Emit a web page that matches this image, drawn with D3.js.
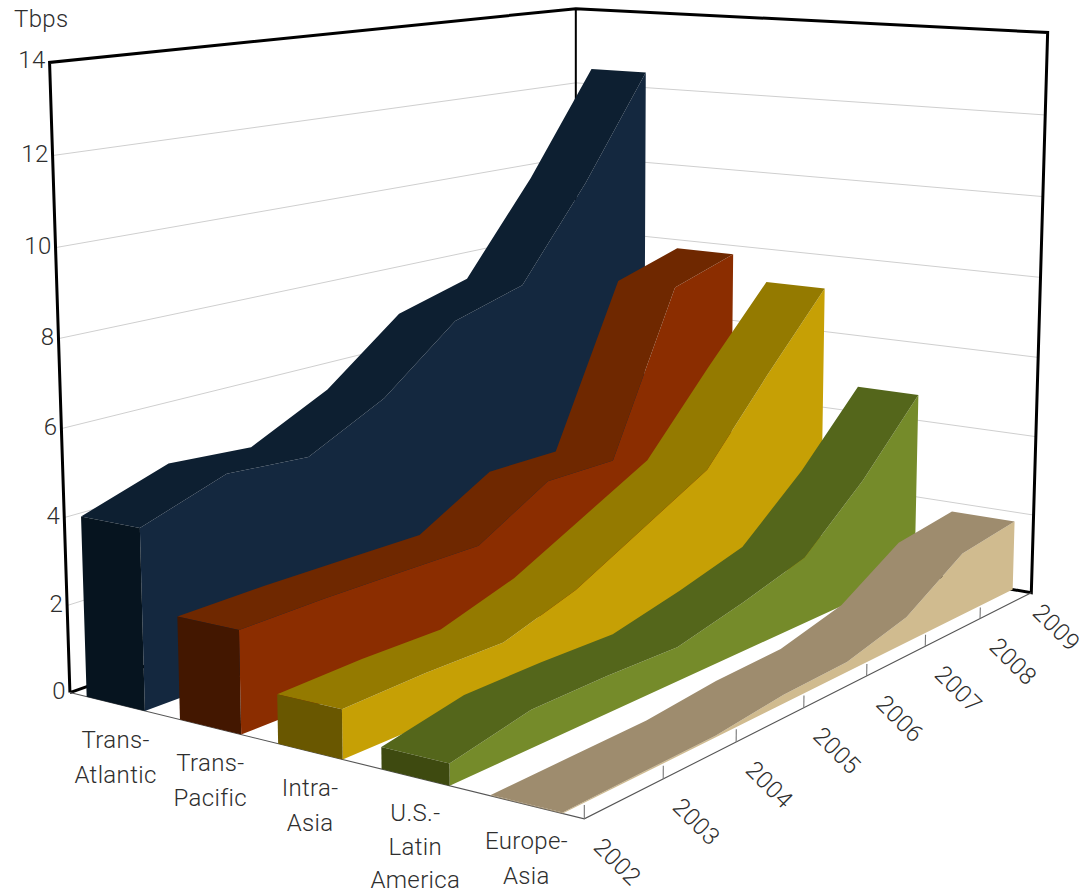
<!DOCTYPE html>
<html><head><meta charset="utf-8">
<style>html,body{margin:0;padding:0;background:#fff}svg{display:block}text{font-family:Roboto,"Liberation Sans",sans-serif;font-weight:300;font-size:24px;letter-spacing:.35px;fill:#2e2e2e}</style>
<script src="https://cdnjs.cloudflare.com/ajax/libs/d3/7.8.5/d3.min.js"></script>
</head><body><svg id="chart" width="1085" height="895"></svg>
<script>
// Lit submarine-cable capacity by route, Tbps
const years = [2002,2003,2004,2005,2006,2007,2008,2009];
const categories = ["Trans-Atlantic","Trans-Pacific","Intra-Asia","U.S.-Latin America","Europe-Asia"];
const categoryLines = [["Trans-","Atlantic"],["Trans-","Pacific"],["Intra-","Asia"],["U.S.-","Latin","America"],["Europe-","Asia"]];
const transAtlantic = [4.1,4.75,4.6,5.5,6.95,7.45,9.75,12.4];
const transPacific = [2.3,2.33,2.32,2.3,3.3,3.28,7.27,7.77];
const intraAsia = [1.08,1.14,1.12,1.68,2.55,3.42,5.32,7.13];
const usLatinAmerica = [0.47,0.84,0.85,0.8,1.18,1.63,2.99,4.66];
const europeAsia = [0.02,0.03,0.04,0.2,0.24,0.62,1.55,1.76];
const seriesValues = [transAtlantic,transPacific,intraAsia,usLatinAmerica,europeAsia];
const valueTicks = [0,2,4,6,8,10,12,14];
const sideColors = ["#14283f","#8b2d00","#c6a005","#758b2a","#d0bb8f"];
const topColors = ["#0d1f31","#6f2800","#947a00","#54661b","#9e8c6e"];
const capColors = ["#06141f","#431700","#695700","#3e4a10","#9e8c6e"];

// Perspective camera: maps the unit cube (route, year, value) to page pixels
const camera = [[442.0232,650.2225,-22.26885,69.9159],[24.84731,-49.50008,-632.5648,692.5659],[-0.1238511,0.2507266,-0.03881792,1]];
const project = (a,b,c) => {
  const w = camera[2][0]*a + camera[2][1]*b + camera[2][2]*c + camera[2][3];
  return [0,1].map(i => (camera[i][0]*a + camera[i][1]*b + camera[i][2]*c + camera[i][3]) / w);
};
const xBand = d3.scaleBand().domain(categories).range([0,1]).paddingInner(0.37).paddingOuter(0.185);
const yYear = d3.scaleLinear().domain([2002,2009]).range([0,1]);
const zValue = d3.scaleLinear().domain([0,14]).range([0,1]);
const pt = (a,year,value) => project(a, yYear(year), zValue(value));
const path = d3.line();
const svg = d3.select("#chart");

// Walls: gridlines, then the heavy frame
const grid = svg.append("g").attr("fill","none").attr("stroke","#cfcfcf").attr("stroke-width",1);
valueTicks.filter(v => v>0 && v<14).forEach(v => {
  grid.append("path").attr("d", path([pt(0,2002,v),pt(0,2009,v),pt(1,2009,v)]));
});
const frame = svg.append("g").attr("fill","none").attr("stroke","#000").attr("stroke-width",3).attr("stroke-linejoin","miter");
frame.append("path").attr("d", path([pt(0,2002,0),pt(0,2002,14),pt(0,2009,14),pt(1,2009,14),pt(1,2009,0),pt(0,2009,0),pt(0,2002,0)]));
frame.append("path").attr("stroke-width",2).attr("d", path([pt(0,2009,14),pt(0,2009,0)]));

// Front floor edges
const floor = svg.append("g").attr("fill","none").attr("stroke","#555").attr("stroke-width",1.1);
floor.append("path").attr("d", path([pt(0,2002,0),pt(1,2002,0),pt(1,2009,0)]));

// Ribbons, far route first: top surface, lit side, then the near end cap
categories.forEach((cat,i) => {
  const vals = seriesValues[i], a0 = xBand(cat), a1 = a0 + xBand.bandwidth();
  const g = svg.append("g");
  const far = years.map((y,k) => pt(a0,y,vals[k]));
  const near = years.map((y,k) => pt(a1,y,vals[k]));
  g.append("path").attr("fill",sideColors[i]).attr("d", path(near.concat([pt(a1,2009,0),pt(a1,2002,0)]))+"Z");
  g.append("path").attr("fill",topColors[i]).attr("d", path(far.concat(near.slice().reverse()))+"Z");
  g.append("path").attr("fill",capColors[i])
    .attr("d", path([pt(a0,2002,0),pt(a0,2002,vals[0]),pt(a1,2002,vals[0]),pt(a1,2002,0)])+"Z");
});

// Year ticks stand on the front floor edge
years.slice(0,-1).forEach(y => {
  svg.append("path").attr("fill","none").attr("stroke","#777").attr("stroke-width",1.1)
    .attr("d", path([pt(1,y,0),pt(1,y,0.28)]));
});

// Value axis labels
valueTicks.forEach(v => {
  const p = pt(0,2002,v);
  svg.append("text").attr("x",p[0]-4).attr("y",p[1]+6).attr("text-anchor","end").text(v);
});
svg.append("text").attr("x",14).attr("y",27).text("Tbps");

// Route labels, one line per row beneath the floor edge; the three-line label packs tighter to stay on the page
categories.forEach((cat,i) => {
  const p = project(xBand(cat)+xBand.bandwidth()/2,0,0);
  const lines = categoryLines[i], step = lines.length === 3 ? 33.5 : 35;
  const t = svg.append("text").attr("text-anchor","middle");
  lines.forEach((line,j) => {
    t.append("tspan").attr("x",p[0]).attr("y",p[1]+44+j*step).text(line);
  });
});

// Year labels, turned along the diagonal; the last one is pulled in from the page edge
years.forEach(y => {
  const p = pt(1,y,0), inset = y === 2009 ? 8 : 0, lx = p[0]+33-inset, ly = p[1]+43-inset;
  svg.append("text").attr("text-anchor","middle").attr("dominant-baseline","central")
    .attr("transform",`translate(${lx},${ly}) rotate(45)`).text(y);
});
</script></body></html>
